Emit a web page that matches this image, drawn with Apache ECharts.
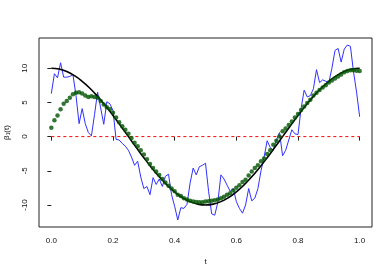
<!DOCTYPE html>
<html>
<head>
<meta charset="utf-8">
<script src="https://cdn.jsdelivr.net/npm/echarts@6/dist/echarts.min.js"></script>
<style>
html,body{margin:0;padding:0;background:#fff;}
#chart{width:392px;height:276px;}
</style>
</head>
<body>
<div id="chart"></div>
<script>
// sampling grid of the noisy estimate and the smoothed estimate (t = 0, 0.01, ..., 1)
const tFine = Array.from({length: 101}, (_, i) => i / 100);
// sampling grid of the true curve (t = 0, 0.025, ..., 1)
const tTrue = Array.from({length: 41}, (_, i) => i / 40);

// raw (noisy) estimate – blue line
const rawValues = [
  6.3, 9.2, 8.6, 10.8, 8.7, 8.7, 8.8, 9.1, 6.0, 1.9,
  4.1, 1.9, 0.6, 0.1, 3.2, 6.5, 4.2, 1.8, 5.1, 4.8,
  3.8, -0.4, -0.5, -1.0, -1.4, -2.0, -3.0, -4.2, -3.6, -5.9,
  -7.6, -7.3, -8.5, -6.0, -7.0, -6.2, -7.3, -5.8, -5.5, -8.5,
  -10.2, -12.2, -10.4, -10.5, -9.9, -6.8, -4.6, -5.6, -4.4, -4.2,
  -3.9, -8.0, -11.3, -11.5, -9.6, -5.6, -6.2, -7.1, -8.0, -7.6,
  -9.5, -10.5, -11.2, -10.0, -7.6, -9.4, -9.0, -7.6, -5.0, -3.0,
  -0.6, -1.6, -2.0, -0.5, 0.6, -2.8, -2.0, -0.5, 1.0, 0.4,
  0.3, 4.1, 6.8, 5.8, 6.0, 7.0, 9.8, 7.9, 8.3, 8.1,
  7.9, 10.0, 12.6, 12.9, 10.9, 12.8, 13.4, 13.2, 9.5, 6.5,
  2.9
];

// smoothed estimate – dark green points
const smoothValues = [
  1.3, 2.4, 3.1, 4.0, 4.8, 5.2, 5.7, 6.2, 6.4, 6.5,
  6.3, 6.0, 5.8, 5.9, 5.8, 5.7, 5.2, 4.7, 4.3, 4.0,
  3.5, 2.8, 2.1, 1.5, 1.0, 0.4, -0.2, -0.9, -1.4, -2.0,
  -2.6, -3.3, -4.0, -4.6, -5.1, -5.6, -6.2, -6.7, -7.2, -7.6,
  -8.0, -8.5, -8.7, -9.0, -9.2, -9.4, -9.5, -9.55, -9.6, -9.6,
  -9.5, -9.45, -9.4, -9.3, -9.2, -9.0, -8.8, -8.5, -8.3, -7.9,
  -7.5, -7.1, -6.65, -6.3, -5.7, -5.1, -4.6, -4.2, -3.6, -3.2,
  -2.55, -2.0, -1.2, -0.6, 0.0, 0.8, 1.2, 1.7, 2.2, 2.8,
  3.3, 3.9, 4.4, 4.9, 5.4, 6.0, 6.4, 6.8, 7.2, 7.5,
  7.9, 8.2, 8.5, 8.8, 9.1, 9.4, 9.6, 9.7, 9.7, 9.65,
  9.6
];

// true coefficient function – black line
const trueValues = [
  10, 9.88, 9.51, 8.91, 8.09, 7.07, 5.88, 4.54, 3.09, 1.56,
  0, -1.56, -3.09, -4.54, -5.88, -7.07, -8.09, -8.91, -9.51, -9.88,
  -10, -9.88, -9.51, -8.91, -8.09, -7.07, -5.88, -4.54, -3.09, -1.56,
  0, 1.56, 3.09, 4.54, 5.88, 7.07, 8.09, 8.91, 9.51, 9.88,
  10
];

// reference line
const refLineT = [0, 1];
const refLineValues = [0, 0];

// tick labels
const xTicks = [0, 0.2, 0.4, 0.6, 0.8, 1.0];
const yTicks = [-10, -5, 0, 5, 10];

const zip = (xs, ys) => xs.map((x, i) => [x, ys[i]]);

// R-style 4% axis padding
const allY = rawValues.concat(smoothValues, trueValues);
const yLo = Math.min(...allY), yHi = Math.max(...allY);
const yPad = 0.04 * (yHi - yLo);
const xPad = 0.04 * (1 - 0);

const chart = echarts.init(document.getElementById('chart'), null, {renderer: 'canvas'});
const fontFam = '"Liberation Sans", Arial, Helvetica, sans-serif';

chart.setOption({
  animation: false,
  backgroundColor: '#fff',
  grid: {
    left: 39, top: 38, right: 20, bottom: 49,
    containLabel: false, outerBoundsMode: 'none',
    show: true, borderColor: '#222', borderWidth: 1, backgroundColor: 'transparent'
  },
  xAxis: {
    type: 'value',
    min: -xPad, max: 1 + xPad,
    axisLine: {show: false},
    splitLine: {show: false},
    axisTick: {show: true, length: 4, customValues: xTicks, lineStyle: {color: '#222'}},
    axisLabel: {
      customValues: xTicks, margin: 10,
      formatter: v => v.toFixed(1),
      fontFamily: fontFam, fontSize: 8, color: '#111'
    },
    name: 't', nameLocation: 'middle', nameGap: 31,
    nameTextStyle: {fontFamily: fontFam, fontSize: 8, color: '#111'}
  },
  yAxis: {
    type: 'value',
    min: yLo - yPad, max: yHi + yPad,
    axisLine: {show: false},
    splitLine: {show: false},
    axisTick: {show: true, length: 4, customValues: yTicks, lineStyle: {color: '#222'}},
    axisLabel: {
      customValues: yTicks, margin: 10, rotate: 90,
      formatter: v => String(v),
      fontFamily: fontFam, fontSize: 8, color: '#111'
    },
    name: 'β₁(t)', nameLocation: 'middle', nameGap: 28, nameRotate: 90,
    nameTextStyle: {fontFamily: fontFam, fontSize: 8, color: '#111'}
  },
  series: [
    {
      type: 'line', data: zip(tFine, rawValues), showSymbol: false,
      lineStyle: {color: '#3030ff', width: 1}, z: 2
    },
    {
      type: 'line', data: zip(tTrue, trueValues), showSymbol: false, smooth: true,
      lineStyle: {color: '#000', width: 1.6}, z: 3
    },
    {
      type: 'line', data: zip(refLineT, refLineValues), showSymbol: false,
      lineStyle: {color: '#ff0000', width: 1, type: [3, 3]}, z: 4
    },
    {
      type: 'scatter', data: zip(tFine, smoothValues), symbol: 'circle', symbolSize: 4.5,
      itemStyle: {color: '#005400'}, z: 5
    }
  ]
});
</script>
</body>
</html>
